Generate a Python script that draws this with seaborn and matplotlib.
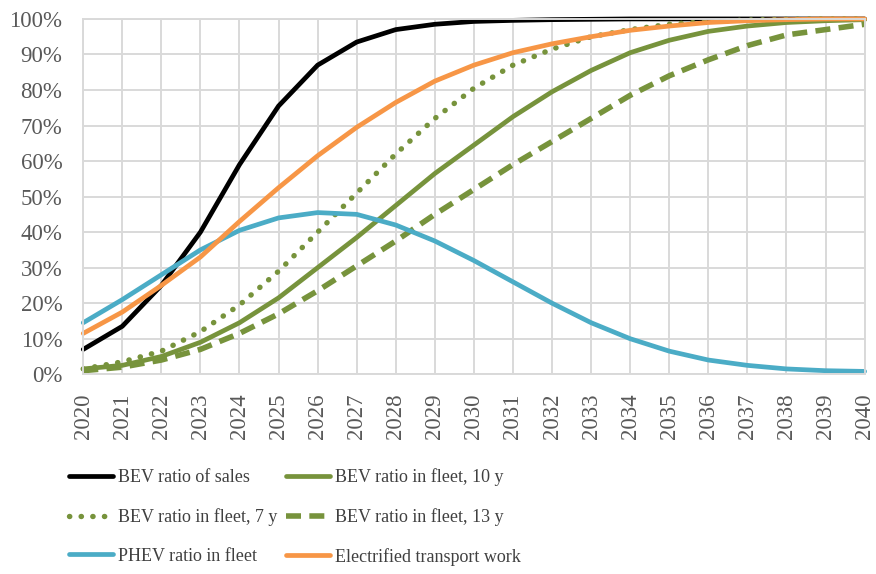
import numpy as np
import pandas as pd
import matplotlib
matplotlib.use('Agg')
import matplotlib.pyplot as plt
import seaborn as sns

years = list(range(2020, 2041))

# values, in percent
bev_sales = [7, 13.5, 25, 40, 59, 75.5, 87, 93.5, 97, 98.5, 99.3, 99.6, 99.8, 99.9, 100, 100, 100, 100, 100, 100, 100]
bev_fleet_10 = [1.5, 2.5, 5, 9, 14.5, 21.5, 30, 38.5, 47.5, 56.5, 64.5, 72.5, 79.5, 85.5, 90.5, 94, 96.5, 98, 99, 99.5, 99.8]
bev_fleet_7 = [1.5, 3.5, 6.5, 12, 19.5, 29, 40, 51, 62, 72, 80.5, 87, 91.5, 95, 97, 98.5, 99.3, 99.7, 99.9, 100, 100]
bev_fleet_13 = [1, 2, 4, 7, 11.5, 17, 23.5, 30.5, 37.5, 45, 52, 59, 65.5, 72, 78.5, 84, 88.5, 92.5, 95.5, 97, 98.5]
phev_fleet = [14.5, 21, 28, 35, 40.5, 44, 45.5, 45, 42, 37.5, 32, 26, 20, 14.5, 10, 6.5, 4, 2.5, 1.5, 1, 0.8]
electrified = [11.5, 17.5, 25, 33, 43, 52.5, 61.5, 69.5, 76.5, 82.5, 87, 90.5, 93, 95, 96.8, 98, 99, 99.5, 99.8, 100, 100]

labels = ['BEV ratio of sales', 'BEV ratio in fleet, 10 y', 'BEV ratio in fleet, 7 y',
          'BEV ratio in fleet, 13 y', 'PHEV ratio in fleet', 'Electrified transport work']

sns.set_style('white')
plt.rcParams['font.family'] = ['Liberation Serif', 'DejaVu Serif']

fig = plt.figure(figsize=(8.76, 5.74), dpi=100)
ax = fig.add_axes([0.095, 0.348, 0.892, 0.619])

green = '#77933C'
series = [
    (bev_sales, labels[0], 'black', '-'),
    (bev_fleet_10, labels[1], green, '-'),
    (bev_fleet_7, labels[2], green, ':'),
    (bev_fleet_13, labels[3], green, '--'),
    (phev_fleet, labels[4], '#4BACC6', '-'),
    (electrified, labels[5], '#F79646', '-'),
]

lines = {}
for vals, lab, col, ls in series:
    df = pd.DataFrame({'year': years, 'v': np.array(vals) / 100.0})
    sns.lineplot(data=df, x='year', y='v', ax=ax, color=col, lw=3.4, label=lab)
    ln = ax.get_lines()[-1]
    if ls == ':':
        ln.set_linewidth(3.9)
        ln.set_dashes([0.05, 2.1])
        ln.set_dash_capstyle('round')
    elif ls == '--':
        ln.set_linewidth(4.0)
        ln.set_dashes([2.7, 1.5])
    ln.set_clip_on(False)
    lines[lab] = ln

ax.get_legend().remove()

ax.set_xlim(2020, 2040)
ax.set_ylim(0, 1)
ax.set_xticks(years)
ax.set_xticklabels([str(y) for y in years], rotation=90)
ax.set_yticks(np.arange(0, 1.01, 0.1))
ax.set_yticklabels([f'{int(round(t * 100))}%' for t in np.arange(0, 1.01, 0.1)])
ax.set_xlabel('')
ax.set_ylabel('')
ax.grid(True, color='#D9D9D9', lw=1.4)
ax.set_axisbelow(True)
for s in ax.spines.values():
    s.set_color('#D9D9D9')
    s.set_linewidth(1.4)
ax.tick_params(axis='y', length=0, labelsize=16.5, labelcolor='#595959', pad=15)
ax.tick_params(axis='x', length=0, labelsize=16.5, labelcolor='#595959', pad=14)

order = [labels[0], labels[2], labels[4], labels[1], labels[3], labels[5]]
fig.legend([lines[l] for l in order], order, ncol=2, loc='upper left',
           bbox_to_anchor=(0.06, 0.212), frameon=False, fontsize=13,
           handlelength=2.45, labelspacing=1.2, columnspacing=0.5,
           handletextpad=0.25, labelcolor='#404040')

fig.savefig('out.png', dpi=100)
